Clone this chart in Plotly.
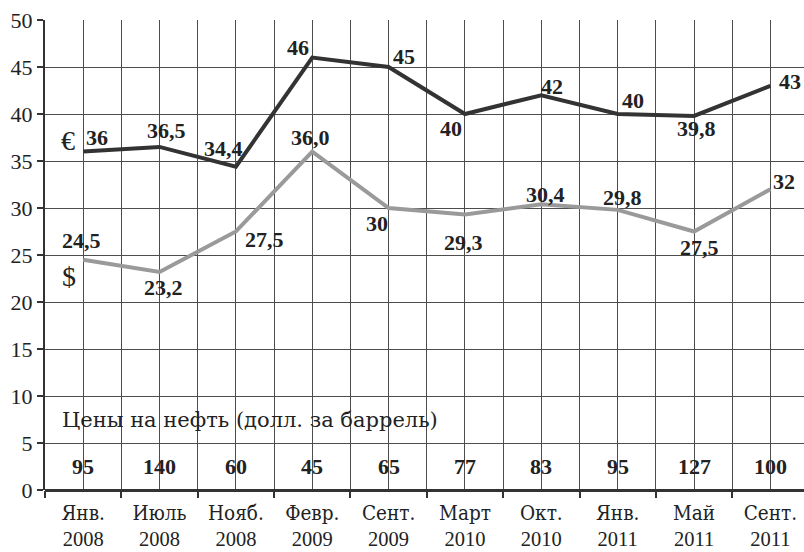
import plotly.graph_objects as go

months = ["Янв.", "Июль", "Нояб.", "Февр.", "Сент.", "Март", "Окт.", "Янв.", "Май", "Сент."]
years = ["2008", "2008", "2008", "2009", "2009", "2010", "2010", "2011", "2011", "2011"]
euro = [36, 36.5, 34.4, 46, 45, 40, 42, 40, 39.8, 43]
dollar = [24.5, 23.2, 27.5, 36.0, 30, 29.3, 30.4, 29.8, 27.5, 32]
euro_labels = ["36", "36,5", "34,4", "46", "45", "40", "42", "40", "39,8", "43"]
dollar_labels = ["24,5", "23,2", "27,5", "36,0", "30", "29,3", "30,4", "29,8", "27,5", "32"]
oil = [95, 140, 60, 45, 65, 77, 83, 95, 127, 100]
y_ticks = [0, 5, 10, 15, 20, 25, 30, 35, 40, 45, 50]

# label offsets in pixels (dx, dy)
euro_off = [(14, 14), (7, 16), (-12, 18), (-14, 10), (15, 11), (-14, -14), (11, 9), (15, 14), (2, -13), (20, 4)]
dollar_off = [(-2, 19), (4, -16), (29, -8), (-2, 14), (-12, -15), (-1, -28), (4, 10), (5, 12), (5, -16), (14, 8)]

x = list(range(len(months)))
FONT = "Liberation Serif"
CYR = "DejaVu Serif Condensed"

fig = go.Figure()
fig.add_trace(go.Scatter(x=x, y=dollar, mode="lines", line=dict(color="#9a9a9a", width=4), hoverinfo="skip"))
fig.add_trace(go.Scatter(x=x, y=euro, mode="lines", line=dict(color="#333333", width=4), hoverinfo="skip"))

ann = []
lab_font = dict(family=FONT, size=22, color="#222")
for i in x:
    dx, dy = euro_off[i]
    ann.append(dict(x=i, y=euro[i], text="<b>" + euro_labels[i] + "</b>", showarrow=False,
                    xshift=dx, yshift=dy, font=lab_font))
    dx, dy = dollar_off[i]
    ann.append(dict(x=i, y=dollar[i], text="<b>" + dollar_labels[i] + "</b>", showarrow=False,
                    xshift=dx, yshift=dy, font=lab_font))
    ann.append(dict(x=i, y=2.5, text="<b>" + str(oil[i]) + "</b>", showarrow=False, font=lab_font))

ann.append(dict(x=-0.5, y=7.5, text="Цены на нефть (долл. за баррель)", showarrow=False,
                xanchor="left", xshift=15, font=dict(family="DejaVu Serif", size=21, color="#222")))
ann.append(dict(x=0, y=euro[0], text="€", showarrow=False, xshift=-15, yshift=11,
                font=dict(family=FONT, size=28, color="#222")))
ann.append(dict(x=0, y=dollar[0], text="$", showarrow=False, xshift=-14, yshift=-17,
                font=dict(family=FONT, size=28, color="#222")))

ticktext = [f'<span style="font-family:{CYR}">{m}</span><br>{y}' for m, y in zip(months, years)]

fig.update_layout(
    width=804, height=552,
    margin=dict(l=45, r=0, t=20, b=62, autoexpand=False),
    plot_bgcolor="white", paper_bgcolor="white",
    showlegend=False,
    annotations=ann,
    font=dict(family=FONT, size=20, color="#222"),
)
fig.update_xaxes(
    range=[-0.5, 9.44],
    tickmode="array", tickvals=x,
    ticktext=ticktext,
    ticks="outside", ticklen=4, tickcolor="rgba(0,0,0,0)",
    tickfont=dict(family=FONT, size=20.5, color="#222"),
    showgrid=True, gridcolor="#4d4d4d", gridwidth=1.3,
    minor=dict(tickmode="array", tickvals=[i - 0.5 for i in x], showgrid=True,
               gridcolor="#4d4d4d", gridwidth=1.3, ticks="outside", ticklen=7,
               tickcolor="#333", tickwidth=1.5),
    zeroline=False, showline=False, automargin=False,
)
fig.update_yaxes(
    range=[0, 50], tickmode="array", tickvals=y_ticks,
    ticks="outside", ticklen=6, tickcolor="#333", tickwidth=1.5,
    tickfont=dict(family=FONT, size=22, color="#222"),
    showgrid=True, gridcolor="#4d4d4d", gridwidth=1.3,
    zeroline=True, zerolinecolor="#333", zerolinewidth=2.5,
    showline=True, linecolor="#333", linewidth=2, automargin=False,
)
fig.write_html("out.html", config={"displayModeBar": False},
               post_script="document.body.style.margin='0';")
